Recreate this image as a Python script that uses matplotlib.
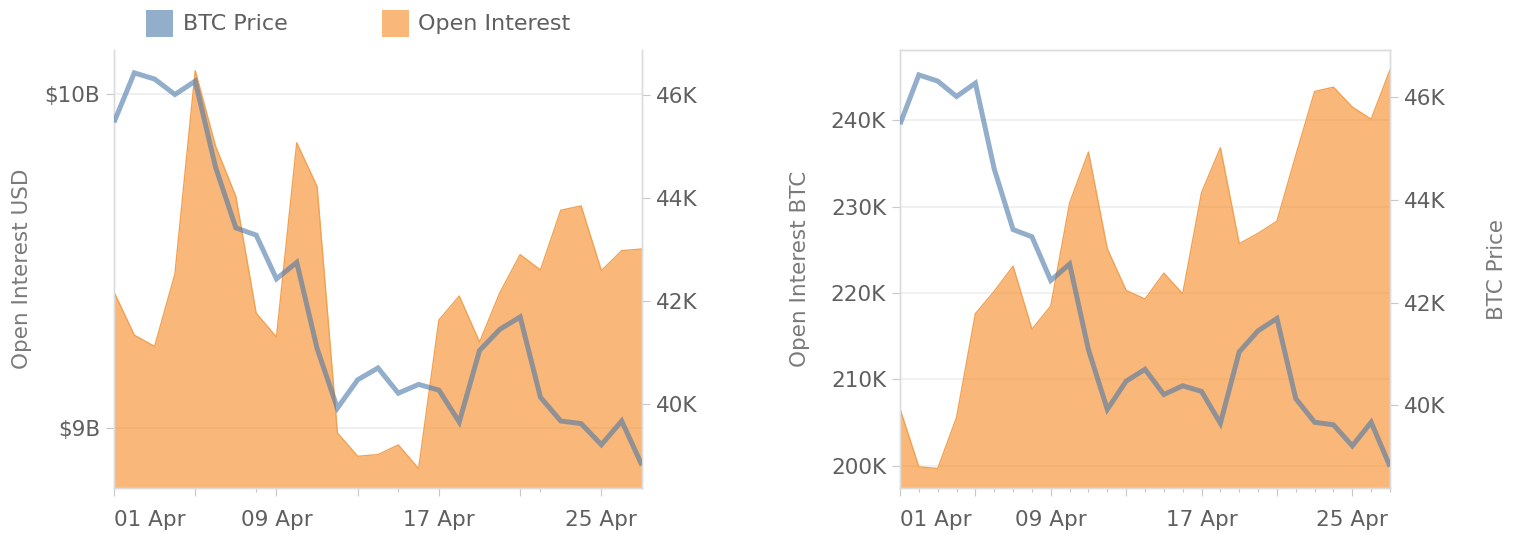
import matplotlib
matplotlib.use("Agg")
import matplotlib.pyplot as plt
from matplotlib.patches import Rectangle
from matplotlib.ticker import FixedLocator, FuncFormatter

# ---------------- data ----------------
days = [1, 2, 3, 4, 5, 6, 7, 8, 9, 10, 11, 12, 13, 14, 15, 16, 17, 18, 19, 20,
        21, 22, 23, 24, 25, 26, 27]  # April
tick_days = [1, 5, 9, 13, 17, 21, 25]
tick_labels = ["01 Apr", "", "09 Apr", "", "17 Apr", "", "25 Apr"]

btc_price = [45470, 46430, 46310, 46010, 46270, 44600, 43420, 43280, 42430, 42750,
             41080, 39920, 40470, 40700, 40210, 40380, 40270, 39650, 41040, 41450,
             41690, 40130, 39670, 39620, 39210, 39670, 38810]

oi_usd = [9.407e9, 9.278e9, 9.244e9, 9.461e9, 10.070e9, 9.844e9, 9.693e9, 9.344e9,
          9.272e9, 9.854e9, 9.723e9, 8.985e9, 8.915e9, 8.920e9, 8.949e9, 8.878e9,
          9.323e9, 9.395e9, 9.257e9, 9.405e9, 9.519e9, 9.473e9, 9.652e9, 9.665e9,
          9.471e9, 9.531e9, 9.536e9]

oi_btc = [206600, 199900, 199700, 205600, 217600, 220200, 223100, 215800, 218500,
          230400, 236300, 225100, 220300, 219300, 222300, 219900, 231600, 236800,
          225700, 226900, 228300, 235900, 243300, 243800, 241500, 240100, 245800]

usd_ticks = [9e9, 10e9]
btc_ticks = [200000, 210000, 220000, 230000, 240000]
price_ticks = [40000, 42000, 44000, 46000]

series_names = ["BTC Price", "Open Interest"]

# ---------------- style ----------------
W, H = 1520, 534
LINE_C = "#4c78a8"
AREA_C = "#f58518"
TICK_TXT = "#5f5f5f"
TITLE_TXT = "#7a7a7a"
FRAME_C = "#dcdcdc"
GRID_C = "#efefef"
FS = 15.5

plt.rcParams["font.family"] = ["DejaVu Sans"]

fig = plt.figure(figsize=(W / 100, H / 100), dpi=100)


def px_rect(x0, y0, x1, y1):
    return [x0 / W, 1 - y1 / H, (x1 - x0) / W, (y1 - y0) / H]


def draw_panel(ax, ax2, oi, left_fmt, left_ticks, left_lim, right_lim, box, minor_days):
    ax.set_xlim(days[0], days[-1])
    ax.set_ylim(*left_lim)
    ax2.set_ylim(*right_lim)

    ax.fill_between(days, oi, left_lim[0], color=AREA_C, alpha=0.58,
                    linewidth=0, zorder=2)
    ax.plot(days, oi, color="#f2a152", lw=1.0, zorder=3)
    ax2.plot(days, btc_price, color=LINE_C, alpha=0.6, lw=3.6,
             solid_joinstyle="miter", solid_capstyle="butt", zorder=4)

    ax.yaxis.set_major_locator(FixedLocator(left_ticks))
    ax.yaxis.set_major_formatter(FuncFormatter(left_fmt))
    ax2.yaxis.set_major_locator(FixedLocator(price_ticks))
    ax2.yaxis.set_major_formatter(FuncFormatter(lambda v, p: f"{v/1000:.0f}K"))

    ax.set_xticks(tick_days)
    ax.set_xticklabels(tick_labels)
    ax.set_xticks(minor_days, minor=True)
    ax.get_xticklabels()[0].set_horizontalalignment("left")

    ax.yaxis.grid(True, color=GRID_C, lw=1.3)
    ax.set_axisbelow(True)

    for a in (ax, ax2):
        a.tick_params(axis="both", which="major", length=6, width=0.8,
                      color="#c8c8c8", labelcolor=TICK_TXT, labelsize=FS, pad=4)
        a.tick_params(axis="x", which="minor", length=3, width=0.8, color="#c8c8c8")
        for s in a.spines.values():
            s.set_color(FRAME_C)
            s.set_linewidth(1.0)
        a.spines["top"].set_visible(box)
    ax.tick_params(axis="x", pad=10)


# ---------------- left chart ----------------
axL = fig.add_axes(px_rect(114, 50, 642, 488))
axL2 = axL.twinx()
draw_panel(axL, axL2, oi_usd, lambda v, p: f"${v/1e9:.0f}B", usd_ticks,
           (8.820e9, 10.132e9), (38369, 46874), False, [8, 15, 22])
axL.set_ylabel("Open Interest USD", fontsize=FS, color=TITLE_TXT, labelpad=9)

# ---------------- right chart ----------------
axR = fig.add_axes(px_rect(900, 50, 1390, 488))
axR2 = axR.twinx()
draw_panel(axR, axR2, oi_btc, lambda v, p: f"{v/1000:.0f}K", btc_ticks,
           (197450, 248100), (38390, 46915), True,
           [d for d in days if (d - 1) % 4 != 0])
axR.set_ylabel("Open Interest BTC", fontsize=FS, color=TITLE_TXT, labelpad=15)
axR2.set_ylabel("BTC Price", fontsize=FS, color=TITLE_TXT, labelpad=30)

# ---------------- legend ----------------
fig.add_artist(Rectangle((146 / W, 1 - 37 / H), 27 / W, 27 / H,
                         transform=fig.transFigure, color=LINE_C, alpha=0.6, lw=0))
fig.text(183 / W, 1 - 24 / H, series_names[0], fontsize=FS + 0.5, color=TICK_TXT,
         va="center", ha="left")
fig.add_artist(Rectangle((382 / W, 1 - 37 / H), 27 / W, 27 / H,
                         transform=fig.transFigure, color=AREA_C, alpha=0.58, lw=0))
fig.text(418 / W, 1 - 24 / H, series_names[1], fontsize=FS + 0.5, color=TICK_TXT,
         va="center", ha="left")

fig.savefig("out.png", dpi=100)
